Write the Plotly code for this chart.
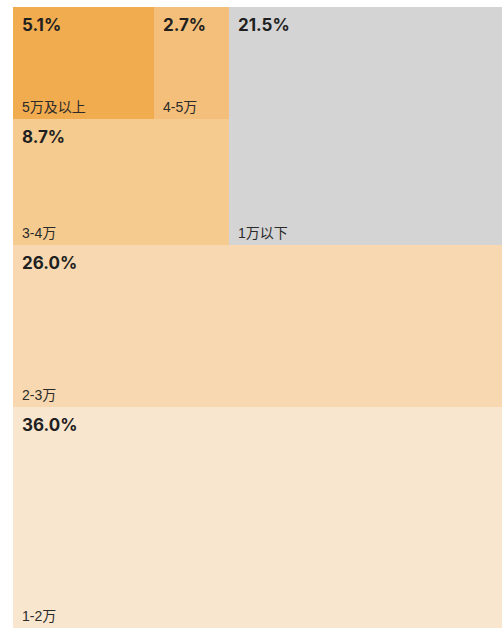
import plotly.graph_objects as go

# Income bands and their share of the total (percent)
categories = ["1-2万", "2-3万", "1万以下", "3-4万", "5万及以上", "4-5万"]
shares = [36.0, 26.0, 21.5, 8.7, 5.1, 2.7]

palette = ["#F9E6CF", "#F7D8B0", "#D4D4D4", "#F5CB8F", "#F2AC50", "#F4BF7A"]
# side of the remaining area each tile is cut from; the last tile fills the rest
cut_sides = ["bottom", "bottom", "right", "bottom", "left", None]


def slice_and_dice(values, sides, x0=0.0, y0=0.0, x1=1.0, y1=1.0):
    """Split the unit square into tiles whose areas are proportional to values."""
    tiles = []
    remaining = float(sum(values))
    for v, side in zip(values, sides):
        frac = v / remaining
        if side == "bottom":
            h = (y1 - y0) * frac
            tiles.append((x0, y0, x1, y0 + h))
            y0 += h
        elif side == "top":
            h = (y1 - y0) * frac
            tiles.append((x0, y1 - h, x1, y1))
            y1 -= h
        elif side == "left":
            w = (x1 - x0) * frac
            tiles.append((x0, y0, x0 + w, y1))
            x0 += w
        elif side == "right":
            w = (x1 - x0) * frac
            tiles.append((x1 - w, y0, x1, y1))
            x1 -= w
        else:
            tiles.append((x0, y0, x1, y1))
        remaining -= v
    return tiles


tiles = slice_and_dice(shares, cut_sides)

# the tile block is 497 x 625 px; the page shows 489 x 621 px of it
x_range = [0, 489 / 497]
y_range = [1 - 621 / 625, 1]

VALUE_FONT = "Inter, Liberation Sans, sans-serif"
NAME_FONT = "Liberation Sans, Noto Sans CJK SC, sans-serif"

fig = go.Figure(
    go.Bar(
        x=[(a + c) / 2 for a, b, c, d in tiles],
        width=[c - a for a, b, c, d in tiles],
        base=[b for a, b, c, d in tiles],
        y=[d - b for a, b, c, d in tiles],
        marker=dict(color=palette, line=dict(width=0)),
        customdata=categories,
        hovertemplate="%{customdata}: %{y}<extra></extra>",
    )
)

annotations = []
for (a, b, c, d), name, v in zip(tiles, categories, shares):
    annotations.append(dict(
        x=a, y=min(d, y_range[1]), xref="x", yref="y",
        text=f"<b>{v:.1f}%</b>",
        xanchor="left", yanchor="top", xshift=7, yshift=-6,
        showarrow=False, font=dict(family=VALUE_FONT, size=17, color="#1f1f1f"),
    ))
    annotations.append(dict(
        x=a, y=max(b, y_range[0]), xref="x", yref="y", text=name,
        xanchor="left", yanchor="bottom", xshift=7, yshift=2,
        showarrow=False, font=dict(family=NAME_FONT, size=14, color="#2b2b2b"),
    ))

fig.update_layout(
    width=502, height=628,
    margin=dict(l=13, r=0, t=7, b=0),
    paper_bgcolor="white", plot_bgcolor="white",
    showlegend=False, bargap=0,
    xaxis=dict(visible=False, range=x_range, fixedrange=True),
    yaxis=dict(visible=False, range=y_range, fixedrange=True),
    annotations=annotations,
)

fig.write_html("out.html")
